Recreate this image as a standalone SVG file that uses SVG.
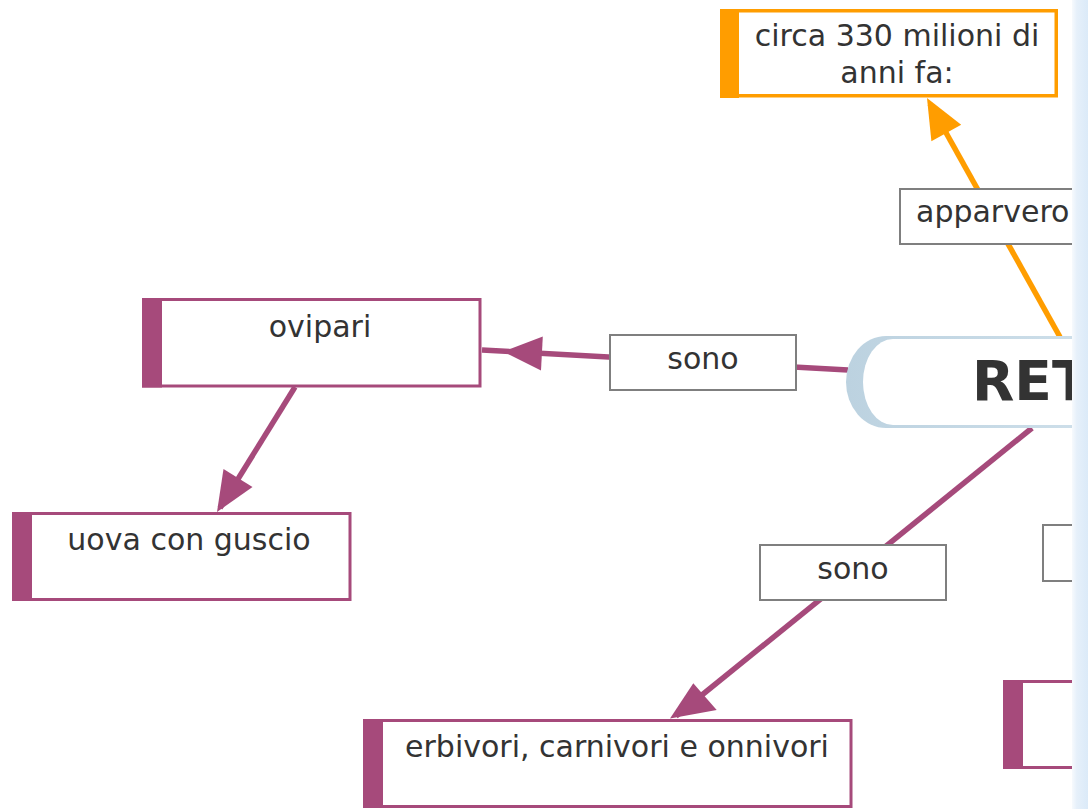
<svg xmlns="http://www.w3.org/2000/svg" width="1088" height="809" viewBox="0 0 1088 809">
<defs>
<linearGradient id="strip" x1="0" y1="0" x2="1" y2="0">
<stop offset="0" stop-color="#f7fafd"/>
<stop offset="0.3" stop-color="#e6f0fa"/>
<stop offset="1" stop-color="#dbeaf8"/>
</linearGradient>
<linearGradient id="pillg" x1="0" y1="0" x2="1" y2="0">
<stop offset="0" stop-color="#bcd2e0"/>
<stop offset="1" stop-color="#d2e2ec"/>
</linearGradient>
<style>
.t{font-family:"DejaVu Sans",Verdana,sans-serif;font-size:30px;fill:#333;}
.c{text-anchor:middle;}
.lbl rect{fill:#fff;stroke:#7f7f7f;stroke-width:2;}
.pn .box{fill:#fff;stroke:#a64a7b;stroke-width:3;}
.pn .bar{fill:#a64a7b;}
.on .box{fill:#fff;stroke:#ff9d00;stroke-width:3.5;}
.on .bar{fill:#ff9d00;}
.lp{stroke:#a64a7b;stroke-width:5.5;fill:none;}
.lo{stroke:#ff9d00;stroke-width:5.5;fill:none;}
.ap{fill:#a64a7b;}
.ao{fill:#ff9d00;}
</style>
</defs>
<rect width="1088" height="809" fill="#fff"/>
<g id="connectors">
<line class="lo" x1="1060" y1="337" x2="930" y2="104"/>
<polygon class="ao" points="927,98 961.2,124.8 931.4,141.2"/>
<line class="lp" x1="848" y1="370" x2="482" y2="350"/>
<polygon class="ap" points="503,351.5 542.8,336.6 541,370.6"/>
<line class="lp" x1="295" y1="387" x2="220" y2="508"/>
<polygon class="ap" points="217,512 252.5,486.9 223.5,469.1"/>
<line class="lp" x1="1032" y1="428" x2="676" y2="716"/>
<polygon class="ap" points="670,718.5 693.3,683.3 716.7,710"/>
</g>
<g id="label-apparvero" class="lbl">
<rect x="900" y="189" width="200" height="55"/>
<text class="t" x="916" y="222">apparvero</text>
</g>
<g id="label-sono-1" class="lbl">
<rect x="610" y="335" width="186" height="55"/>
<text class="t c" x="703" y="369">sono</text>
</g>
<g id="label-sono-2" class="lbl">
<rect x="760" y="545" width="186" height="55"/>
<text class="t c" x="853" y="579">sono</text>
</g>
<g id="label-right" class="lbl">
<rect x="1043" y="525" width="100" height="56"/>
</g>
<g id="node-circa" class="on">
<rect class="box" x="721.75" y="10.75" width="334.5" height="85"/>
<rect class="bar" x="720" y="9" width="19" height="89"/>
<text class="t c" x="897" y="46">circa 330 milioni di</text>
<text class="t c" x="897" y="83">anni fa:</text>
</g>
<g id="node-rettili">
<rect x="846" y="336" width="300" height="92" rx="40" ry="46" fill="url(#pillg)"/>
<rect x="863" y="339" width="284" height="86" rx="30" ry="43" fill="#fff"/>
<text x="972" y="400" font-family="'DejaVu Sans',Verdana,sans-serif" font-size="55" font-weight="bold" fill="#333">RET</text>
</g>
<g id="node-ovipari" class="pn">
<rect class="box" x="143.5" y="299.5" width="336.5" height="86.5"/>
<rect class="bar" x="142" y="298" width="20" height="89.5"/>
<text class="t c" x="320" y="337">ovipari</text>
</g>
<g id="node-uova" class="pn">
<rect class="box" x="13.5" y="513.5" width="336.5" height="86"/>
<rect class="bar" x="12" y="512" width="20" height="89"/>
<text class="t c" x="189" y="550">uova con guscio</text>
</g>
<g id="node-erbivori" class="pn">
<rect class="box" x="364.5" y="720.5" width="486.5" height="86"/>
<rect class="bar" x="363" y="719" width="20" height="89"/>
<text class="t c" x="617" y="757">erbivori, carnivori e onnivori</text>
</g>
<g id="node-right" class="pn">
<rect class="box" x="1004.5" y="681.5" width="120" height="86"/>
<rect class="bar" x="1003" y="680" width="20" height="89"/>
</g>
<rect x="1072" y="0" width="16" height="809" fill="url(#strip)"/>
</svg>
